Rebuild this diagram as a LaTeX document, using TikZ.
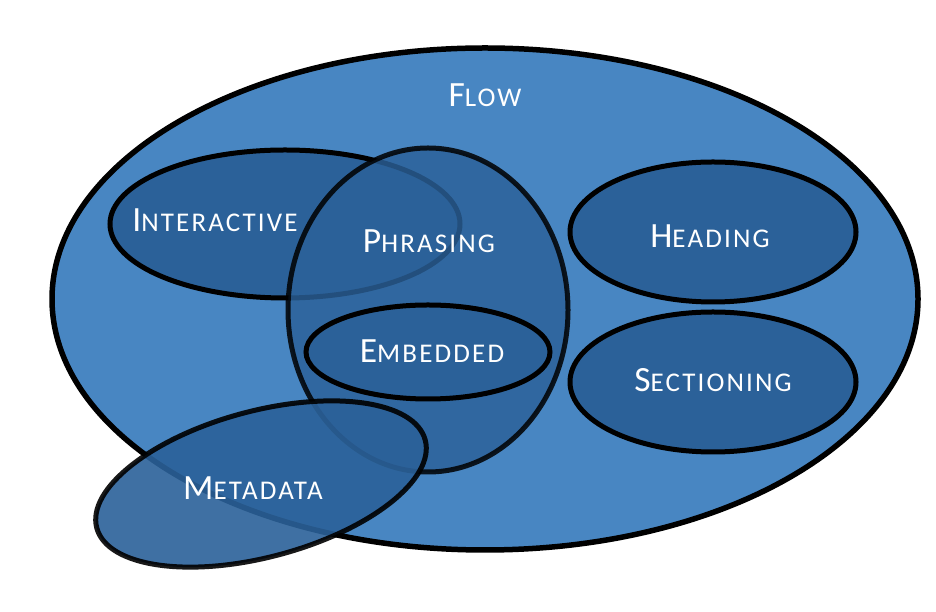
\documentclass[tikz,border=0pt]{standalone}
\usepackage{fontspec}
\setmainfont{Carlito}
\newfontfamily\spacedfont[LetterSpace=8]{Carlito}
\definecolor{flowblue}{HTML}{4886C2}
\definecolor{setblue}{HTML}{2B6199}
% small capitals: a large initial followed by smaller, spaced capitals
\newcommand{\smcap}[2]{{\spacedfont\fontsize{35.5}{40}\selectfont #1}{\spacedfont\fontsize{27}{30}\selectfont #2}}
\tikzset{
  setshape/.style={draw=black, line width=5pt, fill=setblue},
  seethrough/.style={setshape, fill opacity=0.82, draw opacity=0.85},
  label/.style={text=white, anchor=base, inner sep=0pt}
}
\begin{document}
\begin{tikzpicture}[x=1pt,y=1pt]
  \useasboundingbox (0,0) rectangle (936,612);
  \fill[white] (0,0) rectangle (936,612);
  % outer set
  \draw[draw=black, line width=5.5pt, fill=flowblue] (485,313) ellipse [x radius=433, y radius=251];
  % inner sets
  \draw[setshape] (285,388) ellipse [x radius=175, y radius=74];
  \draw[seethrough] (428,302) ellipse [x radius=140, y radius=162];
  \draw[setshape] (428,260) ellipse [x radius=122, y radius=47];
  \draw[setshape] (713,380) ellipse [x radius=143, y radius=70];
  \draw[setshape] (713,230) ellipse [x radius=143, y radius=70];
  \draw[setshape, fill opacity=0.9, draw opacity=0.9, rotate around={15:(261,128)}]
    (261,128) ellipse [x radius=170, y radius=73];
  % labels
  \node[label] (flow) at (485,505) {\smcap{F}{LOW}};
  \node[label] (interactive) at (215,380) {\smcap{I}{NTERACTIVE}};
  \node[label] (phrasing) at (429,359) {\smcap{P}{HRASING}};
  \node[label] (heading) at (710,364) {\smcap{H}{EADING}};
  \node[label] (embedded) at (432,249) {\smcap{E}{MBEDDED}};
  \node[label] (sectioning) at (713,220) {\smcap{S}{ECTIONING}};
  \node[label] (metadata) at (253,112) {\smcap{M}{ETADATA}};
\end{tikzpicture}
\end{document}
